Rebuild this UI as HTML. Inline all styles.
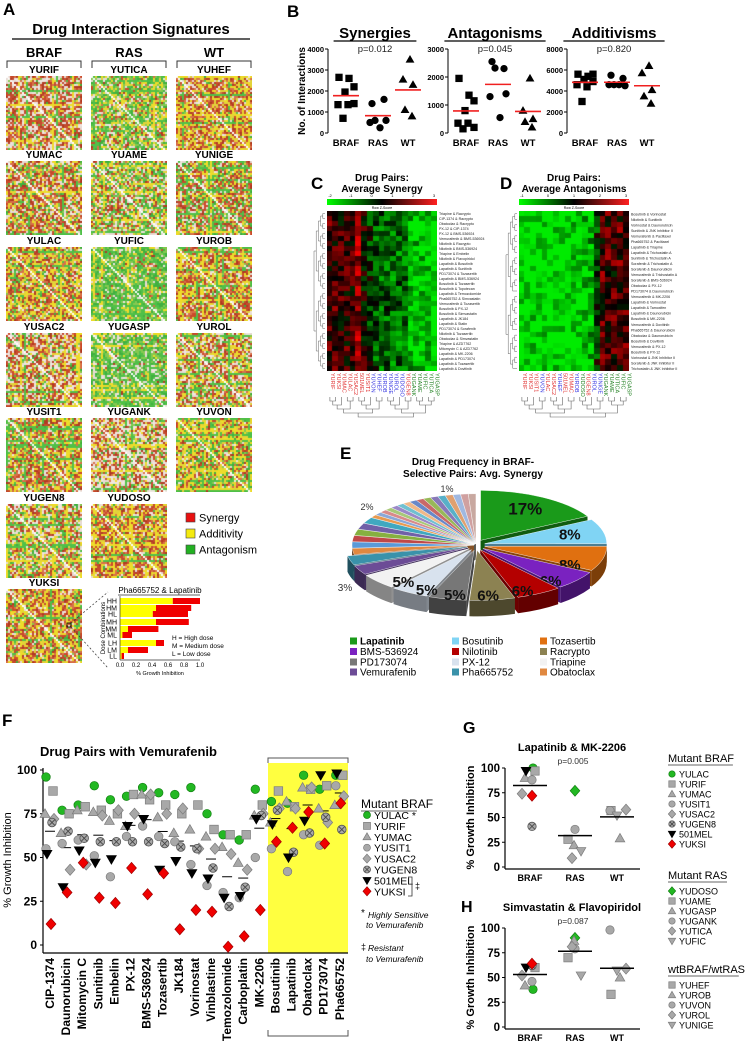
<!DOCTYPE html>
<html><head><meta charset="utf-8">
<style>
html,body{margin:0;padding:0;background:#fff;}
#page{position:relative;width:746px;height:1050px;overflow:hidden;background:#fff;font-family:"Liberation Sans",Arial,sans-serif;}
canvas{position:absolute;}
#fig{position:absolute;left:0;top:0;}
</style></head>
<body>
<div id="page">
<svg id="fig" width="746" height="1050" viewBox="0 0 746 1050" font-family="Liberation Sans, Arial, sans-serif"></svg>
</div>
<script>
// ---------- DATA ----------
// Panel B
const bGroups=['BRAF','RAS','WT'];
const synBRAF=[2650,2600,2200,1950,1350,1350,1400,700];
const synRAS=[1400,1600,600,600,500,250];
const synWT=[3500,2550,2300,1100,800];
const antBRAF=[1950,1350,1150,800,350,350,200,150];
const antRAS=[2550,2300,2320,1400,1300,550];
const antWT=[1950,800,500,400,200];
const addBRAF=[5600,5400,5600,5100,4600,4400,4900,3000];
const addRAS=[5500,5200,4600,4500,4600,4600];
const addWT=[6400,5700,4100,3500,2800];
const bTitles=['Synergies','Antagonisms','Additivisms'];
const bPvals=['p=0.012','p=0.045','p=0.820'];
const bMax=[4000,3000,8000];
const bTickLabels=[[0,1000,2000,3000,4000],[0,1000,2000,3000],[0,2000,4000,6000,8000]];
// Panel E
const pieLabels=['Lapatinib','Bosutinib','Tozasertib','BMS-536924','Nilotinib','Racrypto','PD173074','PX-12','Triapine','Vemurafenib','Pha665752','Obatoclax'];
const pieValues=[17,8,8,6,6,6,5,5,5,3,3,2];
const pieSmallValues=[2,2,2,2,2,1,1,1,1,1,1,1,1,1,1,1,1,1,1,1,1];
// Panel F
const fDrugs=['CIP-1374','Daunorubicin','Mitomycin C','Sunitinib','Embelin','PX-12','BMS-536924','Tozasertib','JK184','Vorinostat','Vinblastine','Temozolomide','Carboplatin','MK-2206','Bosutinib','Lapatinib','Obatoclax','PD173074','Pha665752'];
const fLines=['YULAC','YURIF','YUMAC','YUSIT1','YUSAC2','YUGEN8','501MEL','YUKSI'];
const fYULAC=[96,77,80,91,83,85,90,87,86,90,75,63,60,89,82,81,97,89,97];
const fYURIF=[88,75,79,77,75,86,83,80,75,80,66,63,63,80,88,79,89,91,97];
const fYUMAC=[75,64,77,76,71,68,86,73,64,66,62,56,47,74,70,82,90,78,80];
const fYUSIT1=[55,58,60,51,39,62,68,62,59,46,34,30,27,50,55,42,63,57,91];
const fYUSAC2=[72,43,46,74,77,75,86,75,78,55,55,52,43,75,78,78,90,70,85];
const fYUGEN8=[70,65,61,59,59,59,59,58,56,55,44,22,33,74,77,53,64,73,66];
const f501MEL=[52,33,54,47,49,68,72,43,48,41,38,27,28,72,69,50,71,97,98];
const fYUKSI=[12,30,47,27,24,44,29,41,9,20,19,-1,5,20,59,67,76,58,81];
const fTicks=[0,25,50,75,100];
// Panel G
const gBRAF=[100,97,90,88,74,41,97,72];
const gRAS=[77,28,22,38,9,16];
const gWT=[57,29,57,58,52];
// Panel H
const hBRAF=[38,60,42,46,52,62,60,64];
const hRAS=[90,70,87,79,81,52];
const hWT=[33,50,98,59,57];
const ghTicks=[0,25,50,75,100];
// Dose bars (panel A inset)
const doseLabels=['HH','HM','HL','MH','MM','ML','LH','LM','LL'];
const doseAdd=[0.66,0.45,0.41,0.45,0.10,0.03,0.45,0.10,0.02];
const doseTotal=[1.0,0.89,0.85,0.86,0.48,0.15,0.55,0.35,0.05];

// ---------- HELPERS ----------
const NS='http://www.w3.org/2000/svg';
const svg=document.getElementById('fig');
const page=document.getElementById('page');
function mk(tag,attrs,name,parent){
  const el=document.createElementNS(NS,tag);
  for(const k in attrs) el.setAttribute(k,attrs[k]);
  
  
  (parent||svg).appendChild(el);
  return el;
}
function txt(x,y,s,opts,name){const t=mk('text',Object.assign({x:x,y:y},opts||{}),name);t.textContent=s;return t;}
function line(x1,y1,x2,y2,st,w,name){return mk('line',{x1,y1,x2,y2,stroke:st||'#000','stroke-width':w||1},name);}
function hsh(a,b,c){const s=Math.sin(a*12.9898+b*78.233+c*37.719)*43758.5453;return s-Math.floor(s);}
function marker(shape,cx,cy,r,fill,stroke,name){
  const st=stroke||'none';
  if(shape==='circle') return mk('circle',{cx,cy,r,fill,stroke:st,'stroke-width':0.7},name);
  if(shape==='square') return mk('rect',{x:cx-r,y:cy-r,width:2*r,height:2*r,fill,stroke:st,'stroke-width':0.7},name);
  if(shape==='triangle') return mk('polygon',{points:`${cx},${cy-r*1.15} ${cx-r*1.15},${cy+r*0.85} ${cx+r*1.15},${cy+r*0.85}`,fill,stroke:st,'stroke-width':0.7},name);
  if(shape==='inv') return mk('polygon',{points:`${cx},${cy+r*1.15} ${cx-r*1.15},${cy-r*0.85} ${cx+r*1.15},${cy-r*0.85}`,fill,stroke:st,'stroke-width':0.7},name);
  if(shape==='diamond') return mk('polygon',{points:`${cx},${cy-r*1.3} ${cx+r*1.15},${cy} ${cx},${cy+r*1.3} ${cx-r*1.15},${cy}`,fill,stroke:st,'stroke-width':0.7},name);
  if(shape==='circlex'){const g=mk('g',{},name);
    mk('circle',{cx,cy,r,fill,stroke:'#555','stroke-width':0.8},'marker-circle',g);
    const d=r*0.65;
    mk('line',{x1:cx-d,y1:cy-d,x2:cx+d,y2:cy+d,stroke:'#444','stroke-width':0.8},'marker-cross',g);
    mk('line',{x1:cx-d,y1:cy+d,x2:cx+d,y2:cy-d,stroke:'#444','stroke-width':0.8},'marker-cross',g);
    return g;}
}
function mean(a){return a.reduce((s,v)=>s+v,0)/a.length;}
function canvasAt(x,y,w,h,name){const c=document.createElement('canvas');c.width=w;c.height=h;c.style.left=x+'px';c.style.top=y+'px';
  
  
  page.insertBefore(c,svg);return c.getContext('2d');}
const GREY='#a8a8a8',GST='#7c7c7c';
const brafStyle=[['circle','#22b822','#128012'],['square',GREY,GST],['triangle',GREY,GST],['circle',GREY,GST],['diamond',GREY,GST],['circlex',GREY,GST],['inv','#000','#000'],['diamond','#f00000','#a00000']];
const rasStyle=[['diamond','#22b822','#128012'],['square',GREY,GST],['triangle',GREY,GST],['circle',GREY,GST],['diamond',GREY,GST],['inv',GREY,GST]];
const wtStyle=[['square',GREY,GST],['triangle',GREY,GST],['circle',GREY,GST],['diamond',GREY,GST],['inv',GREY,GST]];

// ---------- PANEL A ----------
txt(3,15,'A',{'font-size':17,'font-weight':'bold'},'panel-a-label');
txt(131,34,'Drug Interaction Signatures',{'font-size':15,'font-weight':'bold','text-anchor':'middle'},'panel-a-title');
line(12,39,250,39,'#000',1.2,'panel-a-title-rule');
const aCols=['BRAF','RAS','WT'], aColX=[6,91,176];
aCols.forEach((c,i)=>{
  txt(aColX[i]+38,57,c,{'font-size':13,'font-weight':'bold','text-anchor':'middle'},'group-header-'+c.toLowerCase());
  mk('path',{d:`M${aColX[i]+1},68 V61 H${aColX[i]+75} V68`,fill:'none',stroke:'#333','stroke-width':1},'group-bracket-'+c.toLowerCase());
});
const aRowY=[76,161,247,333,418,504,589];
const tiles=[
 [0,0,'YURIF',[.5,.1,.1,.3]],[0,1,'YUMAC',[.4,.22,.18,.2]],[0,2,'YULAC',[.35,.38,.15,.12]],[0,3,'YUSAC2',[.4,.18,.14,.28]],[0,4,'YUSIT1',[.4,.28,.17,.15]],[0,5,'YUGEN8',[.3,.2,.25,.25]],[0,6,'YUKSI',[.45,.33,.1,.12]],
 [1,0,'YUTICA',[.15,.25,.42,.18]],[1,1,'YUAME',[.2,.2,.35,.25]],[1,2,'YUFIC',[.05,.15,.68,.12]],[1,3,'YUGASP',[.05,.1,.67,.18]],[1,4,'YUGANK',[.32,.14,.14,.4]],[1,5,'YUDOSO',[.48,.3,.1,.12]],
 [2,0,'YUHEF',[.45,.38,.05,.12]],[2,1,'YUNIGE',[.38,.15,.28,.19]],[2,2,'YUROB',[.48,.3,.1,.12]],[2,3,'YUROL',[.33,.28,.14,.25]],[2,4,'YUVON',[.3,.38,.24,.08]]
];
const reds=['#cc4a2a','#b03a22','#d8704a','#c24a30'],yels=['#eedc2a','#e2d33a'],grns=['#50c048','#86c850','#40b040'],whs=['#e8dcd6','#f0e6e0'];
tiles.forEach((t,ti)=>{
  const x=aColX[t[0]],y=aRowY[t[1]],w=t[3];
  txt(x+38,y-3,t[2],{'font-size':10,'font-weight':'bold','text-anchor':'middle'},'cell-line-label');
  const ctx=canvasAt(x,y,76,74,'interaction-heatmap-'+t[2].toLowerCase());
  const n=38,m=37;
  const rowS=[],colS=[];
  for(let i=0;i<m;i++){const h=hsh(i,ti,5);rowS.push(h<0.12?(hsh(i,ti,6)<0.5?'y':'g'):null);}
  for(let j=0;j<n;j++){const h=hsh(j,ti,7);colS.push(h<0.12?(hsh(j,ti,8)<0.5?'y':'g'):null);}
  for(let i=0;i<m;i++)for(let j=0;j<n;j++){
    let c;const r=hsh(i,j,ti+1);
    const s=rowS[i]||colS[j];
    if(s&&hsh(j,i,ti+3)<0.7) c=s==='y'?yels[0]:grns[0];
    else if(r<w[0]) c=reds[Math.floor(hsh(i,j,ti+9)*4)];
    else if(r<w[0]+w[1]) c=yels[Math.floor(hsh(i,j,ti+11)*2)];
    else if(r<w[0]+w[1]+w[2]) c=grns[Math.floor(hsh(i,j,ti+13)*3)];
    else c=whs[Math.floor(hsh(i,j,ti+15)*2)];
    if(Math.abs(i-j)===0) c='#ffffff';
    ctx.fillStyle=c;ctx.fillRect(j*2,i*2,2,2);
  }
});
// legend
[['#e81010','Synergy',513],['#f4ea10','Additivity',529],['#22b022','Antagonism',545]].forEach(l=>{
  mk('rect',{x:186,y:l[2],width:9,height:9,fill:l[0],stroke:'#444','stroke-width':0.6},'legend-swatch-'+l[1].toLowerCase());
  txt(199,l[2]+8.5,l[1],{'font-size':11},'legend-label-'+l[1].toLowerCase());
});
mk('rect',{x:67,y:623,width:4,height:4,fill:'none',stroke:'#000','stroke-width':0.8},'zoom-box');
line(71,623,108,592,'#333',0.7,'zoom-line-top').setAttribute('stroke-dasharray','2,2');
line(71,627,108,668,'#333',0.7,'zoom-line-bottom').setAttribute('stroke-dasharray','2,2');
const dX0=120,dW=80,doseY=[601,608,614,622,629,635,643,650,656];
txt(160,593,'Pha665752 & Lapatinib',{'font-size':8,'text-anchor':'middle'},'dose-chart-title');
line(118,595,200,595,'#333',0.7,'dose-title-rule');
doseLabels.forEach((d,i)=>{
  const y=doseY[i];
  mk('rect',{x:dX0,y:y-3,width:doseAdd[i]*dW,height:6,fill:'#ffff00'},'dose-bar-additive-'+d);
  mk('rect',{x:dX0+doseAdd[i]*dW,y:y-3,width:(doseTotal[i]-doseAdd[i])*dW,height:6,fill:'#f00000'},'dose-bar-synergy-'+d);
  txt(117,y+2.5,d,{'font-size':7,'text-anchor':'end'},'dose-label-'+d);
});
line(dX0,596,dX0,660,'#333',0.7,'dose-y-axis');
line(dX0,660,dX0+dW,660,'#333',0.7,'dose-x-axis');
[0,0.2,0.4,0.6,0.8,1.0].forEach(v=>{txt(dX0+v*dW,667,v.toFixed(1),{'font-size':6,'text-anchor':'middle'},'dose-x-tick');});
txt(160,675,'% Growth Inhibition',{'font-size':5.5,'text-anchor':'middle'},'dose-x-title');
txt(0,0,'Dose Combinations',{'font-size':6,'text-anchor':'middle',transform:'translate(105,628) rotate(-90)'},'dose-y-title');
['H = High dose','M = Medium dose','L = Low dose'].forEach((s,i)=>txt(172,640+i*8,s,{'font-size':6.5},'dose-key'));

// ---------- PANEL B ----------
txt(287,17,'B',{'font-size':17,'font-weight':'bold'},'panel-b-label');
const bAxisX=[328,448,567],bGx=[18,50,80],bTop=49,bBot=133;
const bData=[[synBRAF,synRAS,synWT],[antBRAF,antRAS,antWT],[addBRAF,addRAS,addWT]];
const bShapes=['square','circle','triangle'];
const jit=[[-7,3,8,-1,-8,2,8,-3],[-6,6,-3,8,-8,2],[2,-5,5,-3,4]];
bData.forEach((grp,p)=>{
  const x0=bAxisX[p],ys=v=>bBot-v/bMax[p]*(bBot-bTop);
  txt(x0+47,38,bTitles[p],{'font-size':15,'font-weight':'bold','text-anchor':'middle'},'plot-title-'+bTitles[p].toLowerCase());
  line(x0+47-(bTitles[p].length*4.6),41,x0+47+(bTitles[p].length*4.6),41,'#000',1.2,'plot-title-rule');
  txt(x0+47,52,bPvals[p],{'font-size':9.5,'text-anchor':'middle',fill:'#222'},'p-value');
  line(x0,bTop,x0,bBot,'#000',1,'y-axis');
  bTickLabels[p].forEach(v=>{line(x0-3,ys(v),x0,ys(v),'#000',1,'y-tick');
    txt(x0-4,ys(v)+3,String(v),{'font-size':7.5,'font-weight':'bold','text-anchor':'end'},'y-tick-label');});
  grp.forEach((vals,g)=>{
    const gx=x0+bGx[g];
    txt(gx,146,bGroups[g],{'font-size':9.5,'font-weight':'bold','text-anchor':'middle'},'x-category-label');
    vals.forEach((v,i)=>marker(bShapes[g],gx+jit[g][i],ys(v),3.3,'#000','#000','point-'+bGroups[g].toLowerCase()));
    const m=mean(vals);
    line(gx-13,ys(m),gx+13,ys(m),'#f02020',1.6,'mean-line');
  });
});
txt(0,0,'No. of Interactions',{'font-size':10,'font-weight':'bold','text-anchor':'middle',transform:'translate(305,91) rotate(-90)'},'y-axis-title');

// ---------- PANELS C & D ----------
const cCols=['YURIF','YUKSI','YUMAC','YULAC','YUSAC2','501MEL','YUSIT1','YUVON','YUHEF','YUROB','YUNIGE','YUROL','YUDOSO','YUGEN8','YUGANK','YUAME','YUFIC','YUTICA','YUGASP'];
const cColColor=['#e03030','#e03030','#e03030','#e03030','#e03030','#e03030','#e03030','#3030e0','#3030e0','#3030e0','#3030e0','#3030e0','#3030e0','#e03030','#208020','#208020','#208020','#208020','#208020'];
const dCols=['YURIF','YUKSI','YUSIT1','YUVON','YULAC','YUSAC2','YUHEF','501MEL','YUMAC','YUROB','YUDOSO','YUGEN8','YUROL','YUNIGE','YUGANK','YUAME','YUTICA','YUFIC','YUGASP'];
const dColColor=['#e03030','#e03030','#e03030','#3030e0','#e03030','#e03030','#3030e0','#e03030','#e03030','#3030e0','#208020','#e03030','#3030e0','#3030e0','#208020','#208020','#208020','#208020','#208020'];
const cRows=['Triapine & Racrypto','CIP-1374 & Racrypto','Obatoclax & Racrypto','PX-12 & CIP-1374','PX-12 & BMS-536924','Vemurafenib & BMS-536924','Nilotinib & Racrypto','Nilotinib & BMS-536924','Triapine & Embelin','Nilotinib & Flavopiridol','Lapatinib & Bosutinib','Lapatinib & Sunitinib','PD173074 & Tozasertib','Lapatinib & BMS-536924','Bosutinib & Tozasertib','Bosutinib & Topotecan','Lapatinib & Temozolomide','Pha665752 & Simvastatin','Vemurafenib & Tozasertib','Bosutinib & PX-12','Bosutinib & Simvastatin','Lapatinib & JK184','Lapatinib & Statin','PD173074 & Sorafenib','Nilotinib & Tozasertib','Obatoclax & Simvastatin','Triapine & AZD7762','Mitomycin C & AZD7762','Lapatinib & MK-2206','Lapatinib & PD173074','Lapatinib & Tozasertib','Lapatinib & Dovitinib'];
const dRows=['Bosutinib & Vorinostat','Nilotinib & Sunitinib','Vorinostat & Daunorubicin','Sunitinib & JNK Inhibitor II','Vemurafenib & Paclitaxel','Pha665752 & Paclitaxel','Lapatinib & Triapine','Lapatinib & Trichostatin A','Sunitinib & Trichostatin A','Sorafenib & Trichostatin A','Sorafenib & Daunorubicin','Vemurafenib & Trichostatin A','Sorafenib & BMS-536924','Obatoclax & PX-12','PD173074 & Daunorubicin','Vemurafenib & MK-2206','Lapatinib & Vorinostat','Lapatinib & Tamoxifen','Lapatinib & Daunorubicin','Bosutinib & MK-2206','Vemurafenib & Dovitinib','Pha665752 & Daunorubicin','Obatoclax & Daunorubicin','Bosutinib & Dovitinib','Vemurafenib & PX-12','Bosutinib & PX-12','Vorinostat & JNK Inhibitor II','Sorafenib & JNK Inhibitor II','Trichostatin & JNK Inhibitor II'];
const cBias=[0.45,0.4,0.35,0.35,0.3,0.9,0.1,-0.3,-0.5,-0.6,-0.6,-0.7,-0.7,-0.8,-1.2,-1.3,-1.4,-1.4,-1.5];
const dBias=[-1.7,-1.7,-1.6,-1.7,-1.6,-1.6,-1.6,-1.7,-1.6,-1.5,-1.5,-1.4,-1.2,-0.3,0.45,0.5,0.35,0.5,0.4];
function zColor(t){
  t=Math.max(-1,Math.min(1,t));
  if(t<0) return `rgb(0,${Math.round(-t*235)},0)`;
  return `rgb(${Math.round(t*255)},0,0)`;
}
function heat(x,y,w,h,cols,colColor,rows,bias,seed,title1,title2,label,lx,keyLabels,name,noise){
  txt(lx,189,label,{'font-size':17,'font-weight':'bold'},'panel-'+label.toLowerCase()+'-label');
  txt(x+w/2,181,title1,{'font-size':10,'font-weight':'bold','text-anchor':'middle'},'heatmap-title');
  txt(x+w/2,192,title2,{'font-size':10,'font-weight':'bold','text-anchor':'middle'},'heatmap-title');
  const gid='grad'+label;
  const defs=mk('defs',{},'defs');
  const lg=mk('linearGradient',{id:gid,x1:0,x2:1,y1:0,y2:0},'color-key-gradient',defs);
  mk('stop',{offset:'0','stop-color':'#00ff00'},'stop',lg);
  mk('stop',{offset:'0.5','stop-color':'#000'},'stop',lg);
  mk('stop',{offset:'1','stop-color':'#ff2020'},'stop',lg);
  mk('rect',{x:x,y:199,width:w,height:6,fill:`url(#${gid})`},'color-key');
  keyLabels.forEach((k,i)=>txt(x+3+i*(w-6)/(keyLabels.length-1),197,k,{'font-size':4,'text-anchor':'middle'},'color-key-tick'));
  txt(x+w/2,209,'Row Z-Score',{'font-size':3.5,'text-anchor':'middle'},'color-key-title');
  const ctx=canvasAt(x,y,w,h,name);
  const cw=w/cols.length,rh=h/rows.length;
  for(let i=0;i<rows.length;i++)for(let j=0;j<cols.length;j++){
    const v=bias[j]+(hsh(i,j,seed)-0.5)*noise;
    ctx.fillStyle=zColor(v/1.6);
    ctx.fillRect(Math.floor(j*cw),Math.floor(i*rh),Math.ceil(cw),Math.ceil(rh));
  }
  rows.forEach((r,i)=>txt(x+w+2,y+i*rh+rh*0.8,r,{'font-size':3.6,fill:'#222'},'heatmap-row-label'));
  cols.forEach((c,j)=>txt(0,0,c,{'font-size':5.5,fill:colColor[j],transform:`translate(${x+j*cw+cw*0.7},${y+h+2}) rotate(90)`},'heatmap-column-label'));
  function tree(a,b,depth,horiz){
    if(b-a<1) return {pos:a,h:0};
    const m=Math.floor((a+b)/2);
    const L=tree(a,m,depth+1,horiz),R=tree(m+1,b,depth+1,horiz);
    const hh=Math.max(L.h,R.h)+1;
    if(horiz){const X=x-2-hh*2.2,xl=x-2-L.h*2.2,xr=x-2-R.h*2.2,yl=y+(L.pos+0.5)*rh,yr=y+(R.pos+0.5)*rh;
      mk('path',{d:`M${xl},${yl} H${X} V${yr} H${xr}`,fill:'none',stroke:'#666','stroke-width':0.5},'row-dendrogram');}
    else{const Y=y+h+26+hh*4,yl=y+h+26+L.h*4,yr=y+h+26+R.h*4,xl=x+(L.pos+0.5)*cw,xr=x+(R.pos+0.5)*cw;
      mk('path',{d:`M${xl},${yl} V${Y} H${xr} V${yr}`,fill:'none',stroke:'#666','stroke-width':0.6},'column-dendrogram');}
    return {pos:(L.pos+R.pos)/2,h:hh};
  }
  tree(0,rows.length-1,0,true);
  tree(0,cols.length-1,0,false);
}
heat(327,211,110,160,cCols,cColColor,cRows,cBias,3,'Drug Pairs:','Average Synergy','C',311,['-2','-1','0','1','2','3'],'synergy-heatmap',1.3);
heat(519,211,110,160,dCols,dColColor,dRows,dBias,7,'Drug Pairs:','Average Antagonisms','D',500,['-1','0','1','2','3'],'antagonism-heatmap',1.4);

// ---------- PANEL E (pie) ----------
txt(340,459,'E',{'font-size':17,'font-weight':'bold'},'panel-e-label');
txt(473,465,'Drug Frequency in BRAF-',{'font-size':10,'font-weight':'bold','text-anchor':'middle'},'pie-title');
txt(473,477,'Selective Pairs: Avg. Synergy',{'font-size':10,'font-weight':'bold','text-anchor':'middle'},'pie-title');
const pieColors=['#1a9a1a','#80d4f4','#e07010','#7a22c0','#b40000','#8c8252','#777777','#d8e2ee','#f2f2f2','#6c4c96','#3a92aa','#e08840'];
const smallColors=['#5a9ad8','#c04848','#86b040','#7060a8','#40a8c0','#e89a50','#8aa8d8','#d88a8a','#a8c878','#9a88c8','#70c0d0','#f0b888','#6888c8','#c86868','#98b858','#8878b8','#58b0c8','#e0a070','#a0b8e0','#d0a0a0','#c8a8a0'];
const pcx=476,pcy=545,prx=122,pry=50,pdep=16;
const allVals=pieValues.concat(pieSmallValues),allCols=pieColors.concat(smallColors);
const tot=allVals.reduce((a,b)=>a+b,0);
let ang=-Math.PI/2;const slices=[];
allVals.forEach((v,i)=>{const a0=ang,a1=ang+v/tot*2*Math.PI;ang=a1;
  const ex=i<11?9:2;const mid=(a0+a1)/2;slices.push({a0,a1,mid,dx:Math.cos(mid)*ex,dy:Math.sin(mid)*ex*0.6,col:allCols[i],v,i});});
function shade(c,f){const e=document.createElement('canvas').getContext('2d');e.fillStyle=c;const h=e.fillStyle;
  const r=parseInt(h.slice(1,3),16),g=parseInt(h.slice(3,5),16),b=parseInt(h.slice(5,7),16);return `rgb(${Math.round(r*f)},${Math.round(g*f)},${Math.round(b*f)})`;}
function pt(a,cx,cy){return [cx+prx*Math.cos(a),cy+pry*Math.sin(a)];}
slices.slice().sort((a,b)=>Math.sin(a.mid)-Math.sin(b.mid)).forEach(s=>{
  const cx=pcx+s.dx,cy=pcy+s.dy;
  [s.a0,s.a1].forEach(a=>{const p=pt(a,cx,cy);
    mk('polygon',{points:`${cx},${cy} ${p[0]},${p[1]} ${p[0]},${p[1]+pdep} ${cx},${cy+pdep}`,fill:shade(s.col,0.6)},'pie-slice-wall');});
  const a0=Math.max(s.a0,0),a1=Math.min(s.a1,Math.PI);
  if(a1>a0){const p0=pt(a0,cx,cy),p1=pt(a1,cx,cy);
    mk('path',{d:`M${p0[0]},${p0[1]} A${prx},${pry} 0 0 1 ${p1[0]},${p1[1]} L${p1[0]},${p1[1]+pdep} A${prx},${pry} 0 0 0 ${p0[0]},${p0[1]+pdep} Z`,fill:shade(s.col,0.55)},'pie-slice-side');}
});
slices.forEach(s=>{const cx=pcx+s.dx,cy=pcy+s.dy,p0=pt(s.a0,cx,cy),p1=pt(s.a1,cx,cy);
  const large=(s.a1-s.a0)>Math.PI?1:0;
  mk('path',{d:`M${cx},${cy} L${p0[0]},${p0[1]} A${prx},${pry} 0 ${large} 1 ${p1[0]},${p1[1]} Z`,fill:s.col,stroke:'#fff','stroke-width':0.4},'pie-slice-'+(s.i<pieLabels.length?pieLabels[s.i].toLowerCase():'other'));
  if(s.i<9){const r=0.72,lx=cx+prx*r*Math.cos(s.mid),ly=cy+pry*r*Math.sin(s.mid)+ (Math.sin(s.mid)>0?pdep*0.6:0);
    txt(lx,ly+5,s.v+'%',{'font-size':s.i===0?17:15,'font-weight':'bold','text-anchor':'middle',fill:'#111'},'pie-value-label');}
});
txt(345,591,'3%',{'font-size':10,'text-anchor':'middle',fill:'#333'},'pie-value-label');
txt(367,510,'2%',{'font-size':9,'text-anchor':'middle',fill:'#333'},'pie-value-label');
txt(447,492,'1%',{'font-size':9,'text-anchor':'middle',fill:'#333'},'pie-value-label');
const legOrder=[[0,350,641],[3,350,651.5],[6,350,662],[9,350,672],[1,452,641],[4,452,651.5],[7,452,662],[10,452,672],[2,540,641],[5,540,651.5],[8,540,662],[11,540,672]];
legOrder.forEach(l=>{
  mk('rect',{x:l[1],y:l[2]-3.5,width:7,height:7,fill:pieColors[l[0]]},'pie-legend-swatch');
  txt(l[1]+10,l[2]+3.5,pieLabels[l[0]],{'font-size':10,'font-weight':l[0]===0?'bold':'normal'},'pie-legend-label');
});

// ---------- PANEL F ----------
txt(2,726,'F',{'font-size':17,'font-weight':'bold'},'panel-f-label');
txt(40,756,'Drug Pairs with Vemurafenib',{'font-size':13,'font-weight':'bold'},'panel-f-title');
const fx=i=>50+i*16.1,fy=v=>945-v*1.75;
mk('rect',{x:268,y:763,width:80,height:190,fill:'#ffff40'},'highlight-box');
mk('path',{d:'M268,763 V758 H348 V763',fill:'none',stroke:'#555','stroke-width':1},'highlight-bracket-top');
mk('path',{d:'M268,1030 V1036 H348 V1030',fill:'none',stroke:'#555','stroke-width':1},'highlight-bracket-bottom');
line(43,768,43,953,'#000',1.2,'f-y-axis');
line(43,953,348,953,'#000',1.2,'f-x-axis');
fTicks.forEach(v=>{line(40,fy(v),43,fy(v),'#000',1,'f-y-tick');
  txt(37,fy(v)+4,String(v),{'font-size':12,'font-weight':'bold','text-anchor':'end'},'f-y-tick-label');});
txt(0,0,'% Growth Inhibition',{'font-size':11,'text-anchor':'middle',transform:'translate(11,860) rotate(-90)'},'f-y-axis-title');
const fSeries=[fYULAC,fYURIF,fYUMAC,fYUSIT1,fYUSAC2,fYUGEN8,f501MEL,fYUKSI];
const fOff=[-4,3,-5,-4,4,2,-3,1];
fDrugs.forEach((d,i)=>{
  txt(0,0,d,{'font-size':12,'font-weight':'bold','text-anchor':'end',transform:`translate(${fx(i)+4},958) rotate(-90)`},'f-drug-label');
  const vals=fSeries.map(s=>s[i]);
  line(fx(i)-5,fy(mean(vals)),fx(i)+5,fy(mean(vals)),'#000',1,'f-mean-line');
});
fSeries.forEach((s,k)=>s.forEach((v,i)=>{
  const st=brafStyle[k];
  marker(st[0],fx(i)+fOff[k],fy(v),4.3,st[1],st[2],'f-point-'+fLines[k].toLowerCase());
}));
txt(361,808,'Mutant BRAF',{'font-size':12},'f-legend-title');
line(361,811,417,811,'#333',0.8,'f-legend-title-rule');
fLines.forEach((l,k)=>{const y=815+k*10.9,st=brafStyle[k];
  marker(st[0],367,y,3.5,st[1],st[2],'f-legend-marker');
  txt(374,y+4,l+(k===0?' *':''),{'font-size':10.5},'f-legend-label');});
mk('path',{d:'M408,877 H412 V896 H408',fill:'none',stroke:'#333','stroke-width':0.8},'f-legend-resistant-bracket');
txt(415,889,'‡',{'font-size':9},'f-legend-dagger');
txt(361,916,'* ',{'font-size':10},'footnote-star');
txt(368,918,'Highly Sensitive',{'font-size':8.5,'font-style':'italic'},'footnote-sensitive');
txt(366,928,'to Vemurafenib',{'font-size':8.5,'font-style':'italic'},'footnote-sensitive');
txt(361,950,'‡',{'font-size':9},'footnote-dagger');
txt(368,951,'Resistant',{'font-size':8.5,'font-style':'italic'},'footnote-resistant');
txt(366,962,'to Vemurafenib',{'font-size':8.5,'font-style':'italic'},'footnote-resistant');

// ---------- PANELS G & H ----------
function groupPlot(top,bot,title,ty,pv,groups,name){
  const ys=v=>bot-v*(bot-top)/100;
  txt(572,ty,title,{'font-size':11,'font-weight':'bold','text-anchor':'middle'},name+'-title');
  txt(573,ty+13,pv,{'font-size':8.5,'text-anchor':'middle',fill:'#333'},name+'-p-value');
  line(505,top,505,bot+2,'#000',1.2,name+'-y-axis');
  line(505,bot+2,640,bot+2,'#000',1.2,name+'-x-axis');
  ghTicks.forEach(v=>{line(502,ys(v),505,ys(v),'#000',1,name+'-y-tick');
    txt(500,ys(v)+4,String(v),{'font-size':11.5,'font-weight':'bold','text-anchor':'end'},name+'-y-tick-label');});
  txt(0,0,'% Growth Inhibition',{'font-size':11,'font-weight':'bold','text-anchor':'middle',transform:`translate(474,${(top+bot)/2}) rotate(-90)`},name+'-y-axis-title');
  const gxs=[530,575,617],styles=[brafStyle,rasStyle,wtStyle];
  const jo=[[3,5,-5,2,-8,2,-4,2],[0,-7,-1,0,-3,6],[-6,3,-7,9,0]];
  groups.forEach((vals,g)=>{
    txt(gxs[g],bot+14,bGroups[g],{'font-size':9,'font-weight':'bold','text-anchor':'middle'},name+'-x-label');
    vals.forEach((v,k)=>{const st=styles[g][k];marker(st[0],gxs[g]+jo[g][k],ys(v),4.2,st[1],st[2],name+'-point');});
    const m=mean(vals);line(gxs[g]-17,ys(m),gxs[g]+17,ys(m),'#000',1.5,name+'-mean-line');
  });
}
txt(463,733,'G',{'font-size':16,'font-weight':'bold'},'panel-g-label');
groupPlot(768,867,'Lapatinib & MK-2206',751,'p=0.005',[gBRAF,gRAS,gWT],'g');
txt(461,912,'H',{'font-size':16,'font-weight':'bold'},'panel-h-label');
groupPlot(928,1027,'Simvastatin & Flavopiridol',911,'p=0.087',[hBRAF,hRAS,hWT],'h');
function legend(title,y,names,styles){
  txt(668,y,title,{'font-size':11},'gh-legend-title');
  line(668,y+3,668+title.length*5.9,y+3,'#333',0.8,'gh-legend-title-rule');
  names.forEach((n,k)=>{const yy=y+12+k*10,st=styles[k];
    marker(st[0],672,yy,3.2,st[1],st[2],'gh-legend-marker');
    txt(679,yy+3.5,n,{'font-size':9},'gh-legend-label');});
}
legend('Mutant BRAF',762,fLines,brafStyle);
legend('Mutant RAS',879,['YUDOSO','YUAME','YUGASP','YUGANK','YUTICA','YUFIC'],rasStyle);
legend('wtBRAF/wtRAS',973,['YUHEF','YUROB','YUVON','YUROL','YUNIGE'],wtStyle);
</script>
</body></html>
